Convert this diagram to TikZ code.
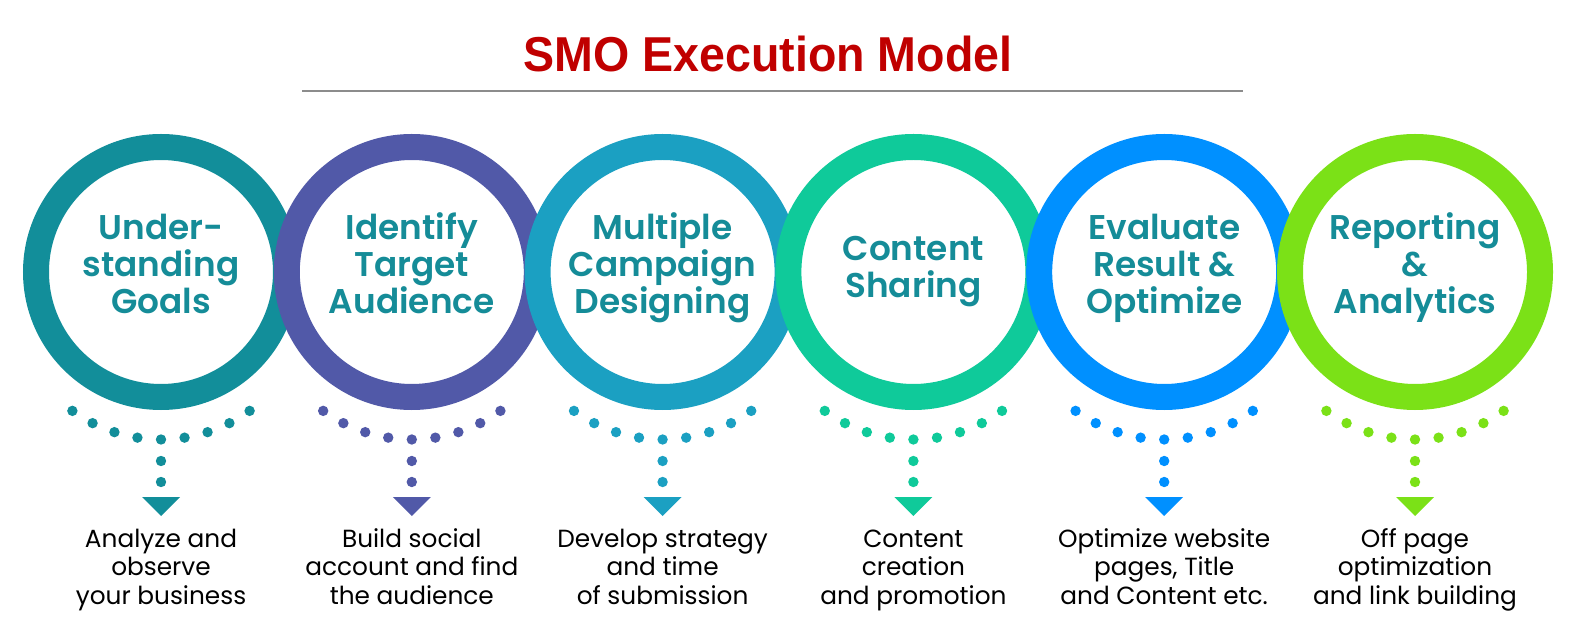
\documentclass[tikz,border=0pt]{standalone}
\usepackage{fontspec}
\usepackage{graphicx}
\usetikzlibrary{calc}
\setmainfont{Poppins}
\newfontfamily\psemi{Poppins SemiBold}
\newfontfamily\titlefont{Liberation Sans}
\definecolor{titlered}{HTML}{C00000}
\definecolor{labelteal}{HTML}{158C98}
\definecolor{cA}{HTML}{128E9A}
\definecolor{cB}{HTML}{5159A8}
\definecolor{cC}{HTML}{1BA0C2}
\definecolor{cD}{HTML}{0FCA9A}
\definecolor{cE}{HTML}{0090FF}
\definecolor{cF}{HTML}{7BE117}
\newcommand\capstrut[1]{\rule{0pt}{#1}}
\tikzset{
  ring/.style={circle, draw=#1, line width=26pt, minimum size=250pt, inner sep=0pt},
  ringlabel/.style={anchor=north, inner sep=0pt, align=center, text=labelteal,
    font=\psemi\fontsize{34.3}{37}\selectfont},
  desc/.style={anchor=north, inner sep=0pt, align=center, text=black,
    font=\fontsize{24.8}{28.5}\selectfont},
  titlestyle/.style={anchor=base, inner sep=0pt, text=titlered,
    font=\titlefont\bfseries\fontsize{49}{55}\selectfont},
  rulestyle/.style={draw=black!45, line width=2pt}
}
\begin{document}
\begin{tikzpicture}[x=1pt,y=-1pt]
\fill[white] (0,0) rectangle (1577,617);
\useasboundingbox (0,0) rectangle (1577,617);
\node[titlestyle] (title) at (768,72) {\scalebox{0.95}[1]{SMO Execution Model}};
\coordinate (lineL) at (302,91);
\coordinate (lineR) at (1243,91);
\draw[rulestyle] (lineL) -- (lineR);
\foreach \i/\cx/\col/\by/\lab/\des in {
  1/161/cA/239/{Under-\\standing\\Goals}/{Analyze and\\observe\\your business},
  2/411.8/cB/239/{Identify\\Target\\Audience}/{Build social\\account and find\\the audience},
  3/662.6/cC/239/{Multiple\\Campaign\\Designing}/{Develop strategy\\and time\\of submission},
  4/913.4/cD/260/{Content\\Sharing}/{Content\\creation\\and promotion},
  5/1164.2/cE/239/{Evaluate\\Result \&\\Optimize}/{Optimize website\\pages, Title\\and Content etc.},
  6/1415/cF/239/{Reporting\\\&\\Analytics}/{Off page\\optimization\\and link building}}{
  \node[ring=\col] (r\i) at (\cx,272) {};
  \node[ringlabel] (l\i) at (\cx,\by-30) {\capstrut{30pt}\lab};
  \foreach \k in {-4,...,4}{
    \fill[\col] (\cx,288) ++(90+\k*8.95:151.5) circle (5.2pt);
  }
  \fill[\col] (\cx,461) circle (5.2pt);
  \fill[\col] (\cx,482) circle (5.2pt);
  \coordinate (t\i) at (\cx,497);
  \fill[\col] ($(t\i)+(-19,0)$) -- ($(t\i)+(19,0)$) -- ($(t\i)+(0,19)$) -- cycle;
  \node[desc] (d\i) at (\cx,547-22) {\capstrut{22pt}\des};
}
\end{tikzpicture}
\end{document}
